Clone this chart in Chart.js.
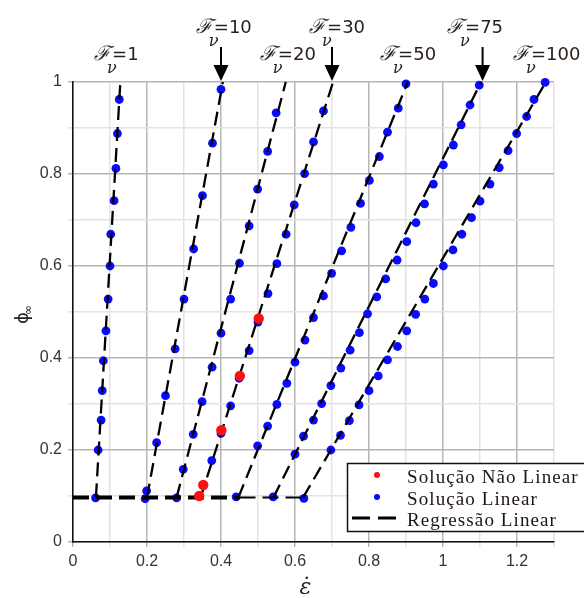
<!DOCTYPE html>
<html>
<head>
<meta charset="utf-8">
<script src="https://cdn.jsdelivr.net/npm/chart.js@4.4.1/dist/chart.umd.min.js"></script>
<style>
  html, body { margin: 0; padding: 0; background: #fff; }
  #wrap { width: 584px; height: 598px; }
</style>
</head>
<body>
<div id="wrap"><canvas id="chart" width="584" height="598"></canvas></div>
<script>
// Linear solution points (x = strain rate, y = phi_inf) for each F_nu
const f1X = [0.061, 0.068, 0.076, 0.079, 0.082, 0.089, 0.095, 0.100, 0.102, 0.111, 0.116, 0.120, 0.125];
const f1Y = [0.096, 0.200, 0.265, 0.329, 0.394, 0.459, 0.528, 0.600, 0.669, 0.742, 0.812, 0.888, 0.962];

const f10X = [0.195, 0.199, 0.226, 0.250, 0.276, 0.300, 0.326, 0.350, 0.377, 0.400];
const f10Y = [0.094, 0.111, 0.216, 0.318, 0.420, 0.528, 0.637, 0.753, 0.867, 0.984];

const f20X = [0.280, 0.298, 0.325, 0.349, 0.376, 0.400, 0.426, 0.450, 0.476, 0.499, 0.526, 0.549];
const f20Y = [0.096, 0.158, 0.234, 0.305, 0.380, 0.454, 0.528, 0.606, 0.687, 0.767, 0.849, 0.933];

const f30X = [0.375, 0.400, 0.426, 0.449, 0.476, 0.500, 0.527, 0.551, 0.576, 0.598, 0.626, 0.650, 0.677];
const f30Y = [0.177, 0.236, 0.296, 0.356, 0.416, 0.478, 0.540, 0.605, 0.669, 0.733, 0.801, 0.870, 0.937];

const f50X = [0.441, 0.499, 0.526, 0.551, 0.578, 0.600, 0.627, 0.650, 0.677, 0.699, 0.726, 0.751, 0.777, 0.801, 0.828, 0.850, 0.879, 0.900];
const f50Y = [0.098, 0.209, 0.252, 0.299, 0.345, 0.391, 0.439, 0.488, 0.535, 0.584, 0.633, 0.684, 0.736, 0.786, 0.838, 0.891, 0.943, 0.996];

const f75X = [0.541, 0.600, 0.623, 0.650, 0.672, 0.697, 0.724, 0.749, 0.774, 0.796, 0.821, 0.845, 0.876, 0.902, 0.927, 0.950, 0.974, 1.001, 1.028, 1.049, 1.073, 1.098];
const f75Y = [0.098, 0.191, 0.230, 0.265, 0.301, 0.340, 0.378, 0.417, 0.455, 0.496, 0.533, 0.572, 0.613, 0.653, 0.694, 0.735, 0.778, 0.820, 0.863, 0.907, 0.950, 0.993];

const f100X = [0.624, 0.697, 0.723, 0.747, 0.773, 0.800, 0.825, 0.850, 0.877, 0.902, 0.926, 0.951, 0.974, 1.001, 1.027, 1.051, 1.077, 1.100, 1.127, 1.152, 1.176, 1.199, 1.226, 1.246, 1.276];
const f100Y = [0.095, 0.200, 0.232, 0.264, 0.298, 0.329, 0.361, 0.396, 0.425, 0.459, 0.495, 0.528, 0.562, 0.600, 0.635, 0.669, 0.705, 0.741, 0.778, 0.814, 0.851, 0.888, 0.925, 0.962, 0.999];

// Non-linear solution points
const nlX = [0.341, 0.352, 0.401, 0.451, 0.502];
const nlY = [0.100, 0.124, 0.243, 0.361, 0.486];

// Regression lines: [start, end] for each F_nu
const regX = [[0.062, 0.128], [0.200, 0.405], [0.280, 0.575], [0.345, 0.703], [0.447, 0.905], [0.542, 1.103], [0.622, 1.278]];
const regY = [[0.097, 1.000], [0.097, 1.000], [0.097, 1.000], [0.097, 1.000], [0.097, 1.000], [0.097, 1.000], [0.097, 1.000]];

// Common threshold line
const baseX = [0.0, 0.45, 0.62];
const baseY = [0.097, 0.097, 0.097];

// F_nu labels above the plot
const fValues = ['1', '10', '20', '30', '50', '75', '100'];
const labelX = [0.057, 0.332, 0.505, 0.638, 0.830, 1.011, 1.189];
const labelRow = [0, 1, 0, 1, 0, 1, 0];
const arrowX = [0.400, 0.700, 1.107];

const pts = (xs, ys) => xs.map((x, i) => ({ x, y: ys[i] }));

const BLUE = '#0a0aff';
const RED = '#ff1010';

const datasets = [];
const blueSets = [[f1X, f1Y], [f10X, f10Y], [f20X, f20Y], [f30X, f30Y], [f50X, f50Y], [f75X, f75Y], [f100X, f100Y]];
blueSets.forEach(([xs, ys]) => {
  datasets.push({
    data: pts(xs, ys), showLine: false, pointRadius: 4.4, pointBorderWidth: 0,
    backgroundColor: BLUE, borderColor: BLUE, order: 3, clip: false
  });
});
regX.forEach((xs, i) => {
  datasets.push({
    data: pts(xs, regY[i]), showLine: true, pointRadius: 0, borderColor: '#000',
    borderWidth: 2.3, borderDash: [14, 7], fill: false, order: 2, clip: false
  });
});
datasets.push({
  data: pts(baseX.slice(0, 2), baseY.slice(0, 2)), showLine: true, pointRadius: 0, borderColor: '#000',
  borderWidth: 4, borderDash: [16, 7], fill: false, order: 2
});
datasets.push({
  data: pts(baseX.slice(1), baseY.slice(1)), showLine: true, pointRadius: 0, borderColor: '#000',
  borderWidth: 2, borderDash: [16, 7], fill: false, order: 2
});
datasets.push({
  data: pts(nlX, nlY), showLine: false, pointRadius: 5.2, pointBorderWidth: 0,
  backgroundColor: RED, borderColor: RED, order: 1, clip: false
});

const isMajor = v => Math.round(v * 10) % 2 === 0;
const fmt = v => { const r = Math.round(v * 10); return r % 2 ? '' : String(r / 10); };
const gridColor = c => isMajor(c.tick.value) ? '#b5b5b5' : '#e3e3e3';

function dot(ctx, x, y, r, color) {
  ctx.beginPath(); ctx.arc(x, y, r, 0, Math.PI * 2); ctx.fillStyle = color; ctx.fill();
}

const decor = {
  id: 'decor',
  afterDraw(chart) {
    const { ctx, chartArea: a, scales: { x: sx } } = chart;
    ctx.save();

    // F_nu labels
    fValues.forEach((v, i) => {
      const left = sx.getPixelForValue(labelX[i]);
      const base = labelRow[i] ? a.top - 49 : a.top - 22;
      ctx.fillStyle = '#2b211c';
      ctx.textAlign = 'left';
      ctx.textBaseline = 'alphabetic';
      ctx.font = 'italic 20px "DejaVu Serif"';
      ctx.fillText('ℱ', left, base);
      ctx.font = 'italic 16px "DejaVu Serif"';
      ctx.fillText('ν', left + 13, base + 13);
      ctx.font = '18px "DejaVu Sans"';
      ctx.fillText('=' + v, left + 18, base);
    });

    // arrows pointing at the curve tops
    ctx.fillStyle = '#000'; ctx.strokeStyle = '#000'; ctx.lineWidth = 2;
    arrowX.forEach(v => {
      const px = sx.getPixelForValue(v);
      ctx.beginPath(); ctx.moveTo(px, a.top - 35); ctx.lineTo(px, a.top - 15); ctx.stroke();
      ctx.beginPath();
      ctx.moveTo(px - 7.5, a.top - 17); ctx.lineTo(px + 7.5, a.top - 17); ctx.lineTo(px, a.top - 1);
      ctx.closePath(); ctx.fill();
    });

    // y-axis title
    ctx.save();
    ctx.translate(28, (a.top + a.bottom) / 2 + 6);
    ctx.rotate(-Math.PI / 2);
    ctx.fillStyle = '#222';
    ctx.textAlign = 'center';
    ctx.font = '18px "DejaVu Sans"';
    ctx.fillText('ϕ', 0, 0);
    ctx.textAlign = 'left';
    ctx.font = '12px "DejaVu Sans"';
    ctx.fillText('∞', 3, 4);
    ctx.restore();

    // x-axis title
    ctx.fillStyle = '#2a2320';
    ctx.textAlign = 'center';
    ctx.font = 'italic 22px "DejaVu Serif"';
    ctx.fillText('ε\u0307', (a.left + a.right) / 2 - 8, 594);

    // legend
    const L = a.right - 207, T = a.bottom - 79;
    ctx.fillStyle = '#fff';
    ctx.fillRect(L, T, 250, 68);
    ctx.strokeStyle = '#111'; ctx.lineWidth = 1.5;
    ctx.strokeRect(L + 0.5, T + 0.5, 250, 68);
    dot(ctx, L + 30, T + 12, 3, RED);
    dot(ctx, L + 30, T + 34, 3, BLUE);
    ctx.strokeStyle = '#000'; ctx.lineWidth = 3; ctx.setLineDash([18, 8]);
    ctx.beginPath(); ctx.moveTo(L + 5, T + 55); ctx.lineTo(L + 53, T + 55); ctx.stroke();
    ctx.setLineDash([]);
    ctx.fillStyle = '#1e1410';
    ctx.textAlign = 'left';
    ctx.font = '19px "Liberation Serif"';
    if ('letterSpacing' in ctx) ctx.letterSpacing = '1.1px';
    ctx.fillText('Solução Não Linear', L + 60, T + 20);
    ctx.fillText('Solução Linear', L + 60, T + 42);
    ctx.fillText('Regressão Linear', L + 60, T + 63);
    ctx.restore();
  }
};

new Chart(document.getElementById('chart'), {
  type: 'scatter',
  data: { datasets },
  options: {
    responsive: false,
    devicePixelRatio: 1,
    animation: false,
    layout: { padding: { top: 82, right: 30, left: 0, bottom: 0 } },
    plugins: { legend: { display: false }, tooltip: { enabled: false } },
    scales: {
      x: {
        type: 'linear', min: 0, max: 1.3,
        ticks: {
          stepSize: 0.1, autoSkip: false, maxRotation: 0, padding: 5,
          color: '#333', font: { family: 'Liberation Sans', size: 16 }, callback: fmt
        },
        grid: { color: gridColor, lineWidth: 1.5, tickLength: 5 },
        border: { color: '#111', width: 1.5 },
        afterFit: s => { s.height = 56; }
      },
      y: {
        type: 'linear', min: 0, max: 1,
        ticks: {
          stepSize: 0.1, autoSkip: false, padding: 6,
          color: '#333', font: { family: 'Liberation Sans', size: 16 }, callback: fmt
        },
        grid: { color: gridColor, lineWidth: 1.5, tickLength: 5 },
        border: { color: '#111', width: 1.5 },
        afterFit: s => { s.width = 73; }
      }
    }
  },
  plugins: [decor]
});
</script>
</body>
</html>
